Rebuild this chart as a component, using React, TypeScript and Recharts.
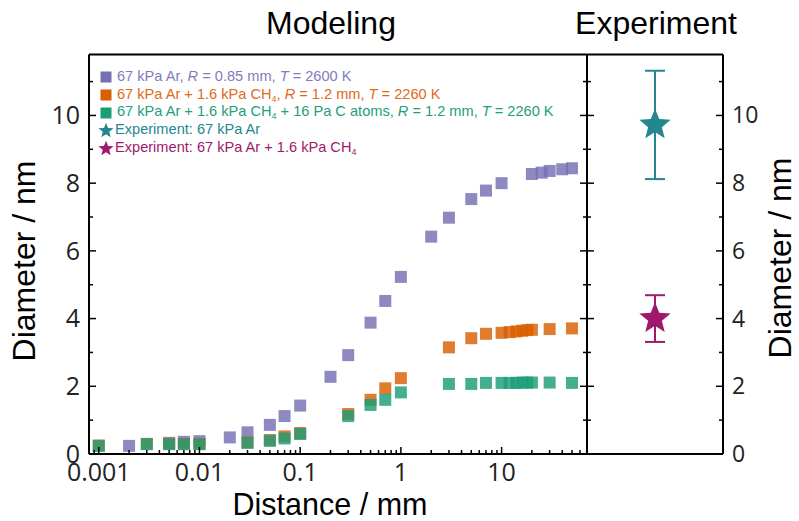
import React from "react";
import {
    ScatterChart, Scatter, XAxis, YAxis, ErrorBar, Legend
} from 'recharts';

// modeling data (distance in mm, diameter in nm)
const arX = [0.002, 0.005, 0.007, 0.01, 0.02, 0.03, 0.05, 0.07, 0.1, 0.2, 0.3, 0.5, 0.7, 1, 2, 3, 5, 7, 10, 20, 25, 30, 40, 50];
const arY = [0.24, 0.33, 0.36, 0.38, 0.49, 0.64, 0.86, 1.12, 1.43, 2.28, 2.92, 3.88, 4.52, 5.23, 6.42, 6.98, 7.53, 7.78, 8.0, 8.27, 8.31, 8.36, 8.41, 8.44];

const ch4X = [0.001, 0.003, 0.005, 0.007, 0.01, 0.03, 0.05, 0.07, 0.1, 0.3, 0.5, 0.7, 1, 3, 5, 7, 10, 12, 14, 16, 18, 20, 30, 50];
const ch4Y = [0.25, 0.3, 0.3, 0.3, 0.3, 0.34, 0.41, 0.52, 0.62, 1.18, 1.6, 1.94, 2.24, 3.15, 3.42, 3.55, 3.58, 3.6, 3.62, 3.64, 3.66, 3.67, 3.69, 3.71];

const cX = [0.001, 0.003, 0.005, 0.007, 0.01, 0.03, 0.05, 0.07, 0.1, 0.3, 0.5, 0.7, 1, 3, 5, 7, 10, 12, 14, 16, 18, 20, 30, 50];
const cY = [0.24, 0.29, 0.29, 0.29, 0.29, 0.33, 0.39, 0.46, 0.59, 1.12, 1.45, 1.6, 1.82, 2.07, 2.07, 2.1, 2.1, 2.1, 2.1, 2.11, 2.11, 2.11, 2.11, 2.1];

// experiment
const expNames = ["Experiment: 67 kPa Ar", "Experiment: 67 kPa Ar + 1.6 kPa CH4"];
const expValues = [9.72, 4.0];
const expErrors = [1.6, 0.69];

// axes
const xMajor = [0.001, 0.01, 0.1, 1, 10];
const xMajorLabels = ["0.001", "0.01", "0.1", "1", "10"];
const xMinor = [0.0009, 0.002, 0.003, 0.004, 0.005, 0.006, 0.007, 0.008, 0.009,
    0.02, 0.03, 0.04, 0.05, 0.06, 0.07, 0.08, 0.09,
    0.2, 0.3, 0.4, 0.5, 0.6, 0.7, 0.8, 0.9,
    2, 3, 4, 5, 6, 7, 8, 9, 20, 30, 40, 50, 60, 70];
const yTicks = [0, 1, 2, 3, 4, 5, 6, 7, 8, 9, 10, 11];
const yLabels = ["0", "", "2", "", "4", "", "6", "", "8", "", "10", ""];

const COLORS = {
    ar: "#7570b3",
    ch4: "#d95f02",
    c: "#1b9e77",
    expAr: "#24868f",
    expCh4: "#a0186b",
};

const zip = (xs: number[], ys: number[]) => xs.map((x, i) => ({ x, y: ys[i] }));

const tickFont = "'Open Sans', sans-serif";
const titleFont = "'Liberation Sans', Arial, sans-serif";

const xTicks = [...xMinor, ...xMajor].sort((a, b) => a - b);

const BottomTick = (props: any) => {
    const { x, y, payload } = props;
    const i = xMajor.indexOf(payload.value);
    const major = i >= 0;
    return (
        <g>
            <line x1={x} x2={x} y1={y} y2={y - (major ? 7 : 4)} stroke="#000" strokeWidth={1.5} />
            {major && (
                <text x={x} y={y + 27} textAnchor="middle" fontSize={25} fontFamily={tickFont} fill="#222">
                    {xMajorLabels[i]}
                </text>
            )}
        </g>
    );
};

const TopTick = (props: any) => {
    const { x, y, payload } = props;
    const major = xMajor.includes(payload.value);
    return <line x1={x} x2={x} y1={y} y2={y + (major ? 7 : 4)} stroke="#000" strokeWidth={1.5} />;
};

const makeYTick = (dir: number, showLabel: boolean, fontSize: number) => (props: any) => {
    const { x, y, payload } = props;
    const label = yLabels[payload.value] ?? "";
    const major = label !== "";
    return (
        <g>
            <line x1={x} x2={x + dir * (major ? 7 : 4)} y1={y} y2={y} stroke="#000" strokeWidth={1.5} />
            {showLabel && major && (
                <text x={x - dir * 9} y={y} dy="0.35em" textAnchor={dir > 0 ? "end" : "start"}
                    fontSize={fontSize} fontFamily={tickFont} fill="#222">
                    {label}
                </text>
            )}
        </g>
    );
};

const Square = (color: string) => (props: any) => {
    const { cx, cy } = props;
    return <rect x={cx - 6} y={cy - 6} width={12} height={12} fill={color} fillOpacity={0.82} />;
};

const starPath = (cx: number, cy: number, R: number, r: number) => {
    let d = "";
    for (let i = 0; i < 10; i++) {
        const rad = i % 2 ? r : R;
        const a = -Math.PI / 2 + (i * Math.PI) / 5;
        d += (i ? "L" : "M") + (cx + rad * Math.cos(a)).toFixed(2) + "," + (cy + rad * Math.sin(a)).toFixed(2);
    }
    return d + "Z";
};

const Star = (color: string) => (props: any) => {
    const { cx, cy } = props;
    return <path d={starPath(cx, cy, 16.5, 7.2)} fill={color} />;
};

const MiniSquare = ({ color }: { color: string }) => (
    <svg width={14} height={14} style={{ verticalAlign: "middle", marginRight: 4 }}>
        <rect x={1.5} y={1.5} width={11} height={11} fill={color} />
    </svg>
);

const MiniStar = ({ color }: { color: string }) => (
    <svg width={16} height={16} style={{ verticalAlign: "middle", marginRight: 1, marginLeft: -1 }}>
        <path d={starPath(8, 8.8, 8, 3.4)} fill={color} />
    </svg>
);

const sub4 = <sub style={{ fontSize: 9, verticalAlign: "-3px", lineHeight: 0 }}>4</sub>;

const LegendBox = () => (
    <div style={{ fontFamily: titleFont, fontSize: 14.6, lineHeight: "17.7px", whiteSpace: "nowrap" }}>
        <div style={{ color: "#7f7cbb" }}>
            <MiniSquare color={COLORS.ar} />67 kPa Ar, <i>R</i> = 0.85 mm, <i>T</i> = 2600 K
        </div>
        <div style={{ color: "#e06a18" }}>
            <MiniSquare color={COLORS.ch4} />67 kPa Ar + 1.6 kPa CH{sub4}, <i>R</i> = 1.2 mm, <i>T</i> = 2260 K
        </div>
        <div style={{ color: "#22a07a" }}>
            <MiniSquare color={COLORS.c} />67 kPa Ar + 1.6 kPa CH{sub4} + 16 Pa C atoms, <i>R</i> = 1.2 mm, <i>T</i> = 2260 K
        </div>
        <div style={{ color: COLORS.expAr }}>
            <MiniStar color={COLORS.expAr} />{expNames[0]}
        </div>
        <div style={{ color: COLORS.expCh4 }}>
            <MiniStar color={COLORS.expCh4} />Experiment: 67 kPa Ar + 1.6 kPa CH{sub4}
        </div>
    </div>
);

const axisLine = { stroke: "#000", strokeWidth: 2 };
const yDomain: [number, number] = [0, 11.8];

const textStyle: React.CSSProperties = {
    position: "absolute", fontFamily: titleFont, fontSize: 32, color: "#000",
    whiteSpace: "nowrap", lineHeight: "24px",
};

export default function App() {
    const expData = expValues.map((v, i) => ({ x: 0.5, y: v, err: expErrors[i] }));
    const expColors = [COLORS.expAr, COLORS.expCh4];

    return (
        <div style={{ position: "absolute", left: 0, top: 0, width: 799, height: 521, background: "#fff", overflow: "hidden" }}>
            <div style={{ position: "absolute", left: 0, top: 0 }}>
                <ScatterChart width={799} height={521} margin={{ top: 4.5, right: 202, bottom: 7, left: 29 }}>
                    <XAxis xAxisId="b" dataKey="x" type="number" scale="log" domain={[0.0008, 70.5]} allowDataOverflow
                        ticks={xTicks} interval={0} tick={BottomTick} tickLine={false} tickSize={0} tickMargin={0}
                        axisLine={axisLine} height={60} />
                    <XAxis xAxisId="t" orientation="top" type="number" scale="log" domain={[0.0008, 70.5]} allowDataOverflow
                        ticks={xTicks} interval={0} tick={TopTick} tickLine={false} tickSize={0} tickMargin={0}
                        axisLine={axisLine} height={50} />
                    <YAxis yAxisId="l" dataKey="y" type="number" domain={yDomain} allowDataOverflow
                        ticks={yTicks} interval={0} tick={makeYTick(1, true, 25)} tickLine={false} tickSize={0} tickMargin={0}
                        axisLine={axisLine} width={60} />
                    <YAxis yAxisId="r" orientation="right" type="number" domain={yDomain} allowDataOverflow
                        ticks={yTicks} interval={0} tick={makeYTick(-1, false, 25)} tickLine={false} tickSize={0} tickMargin={0}
                        axisLine={axisLine} width={10} />
                    <Scatter xAxisId="b" yAxisId="l" data={zip(arX, arY)} shape={Square(COLORS.ar)} isAnimationActive={false} />
                    <Scatter xAxisId="b" yAxisId="l" data={zip(ch4X, ch4Y)} shape={Square(COLORS.ch4)} isAnimationActive={false} />
                    <Scatter xAxisId="b" yAxisId="l" data={zip(cX, cY)} shape={Square(COLORS.c)} isAnimationActive={false} />
                    <Legend layout="vertical" align="center" verticalAlign="middle" content={() => <LegendBox />}
                        wrapperStyle={{ left: 99, top: 68, width: 480, height: 90 }} />
                </ScatterChart>
            </div>
            <div style={{ position: "absolute", left: 0, top: 0 }}>
                <ScatterChart width={799} height={521} margin={{ top: 24.5, right: 16, bottom: 37, left: 577 }}>
                    <XAxis xAxisId="b" dataKey="x" type="number" domain={[0, 1]} allowDataOverflow
                        tick={false} tickLine={false} axisLine={axisLine} height={30} />
                    <XAxis xAxisId="t" orientation="top" type="number" domain={[0, 1]} allowDataOverflow
                        tick={false} tickLine={false} axisLine={axisLine} height={30} />
                    <YAxis yAxisId="l" type="number" domain={yDomain} allowDataOverflow
                        ticks={yTicks} interval={0} tick={makeYTick(1, false, 23)} tickLine={false} tickSize={0} tickMargin={0}
                        axisLine={axisLine} width={10} />
                    <YAxis yAxisId="r" dataKey="y" orientation="right" type="number" domain={yDomain} allowDataOverflow
                        ticks={yTicks} interval={0} tick={makeYTick(-1, true, 23)} tickLine={false} tickSize={0} tickMargin={0}
                        axisLine={axisLine} width={60} />
                    {expData.map((d, i) => (
                        <Scatter key={i} xAxisId="b" yAxisId="r" data={[d]} shape={Star(expColors[i])} isAnimationActive={false}>
                            <ErrorBar dataKey="err" direction="y" width={10} strokeWidth={2} stroke={expColors[i]} />
                        </Scatter>
                    ))}
                </ScatterChart>
            </div>
            <div style={{ ...textStyle, left: 331, top: 11, transform: "translateX(-50%)" }}>Modeling</div>
            <div style={{ ...textStyle, left: 656, top: 11, transform: "translateX(-50%)" }}>Experiment</div>
            <div style={{ ...textStyle, fontSize: 30.5, left: 330, top: 492, transform: "translateX(-50%)" }}>Distance / mm</div>
            <div style={{ ...textStyle, left: 24, top: 261, transform: "translate(-50%, -50%) rotate(-90deg)" }}>Diameter / nm</div>
            <div style={{ ...textStyle, left: 780, top: 258, transform: "translate(-50%, -50%) rotate(-90deg)" }}>Diameter / nm</div>
        </div>
    );
}
